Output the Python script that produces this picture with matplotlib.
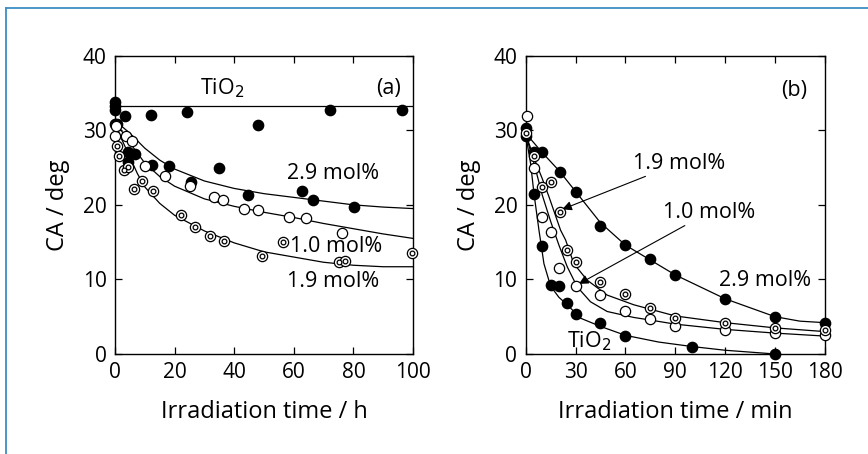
import matplotlib
matplotlib.use("Agg")
import matplotlib.pyplot as plt
from matplotlib.lines import Line2D

plt.rcParams['font.family'] = ['Open Sans', 'DejaVu Sans']

# ---- panel (a): irradiation time in hours ----
a_tio2_x = [0, 0, 0, 0, 3.4, 12.1, 24.1, 48, 72, 96.3]
a_tio2_y = [33.75, 33.2, 32.7, 30.9, 31.9, 32.0, 32.4, 30.7, 32.7, 32.7]
a_tio2_line_x = [0, 100]
a_tio2_line_y = [33.2, 33.2]

a_29_x = [0.8, 4.5, 6.7, 4.2, 12.3, 18.1, 25.4, 34.9, 44.5, 62.9, 66.5, 80.3]
a_29_y = [30.9, 27.1, 26.8, 25.7, 25.4, 25.2, 23.1, 25.0, 21.3, 21.9, 20.7, 19.7]
a_29_cx = [0, 5, 10, 15, 20, 30, 40, 50, 60, 70, 80, 90, 100]
a_29_cy = [31.3, 29.6, 27.6, 26.0, 24.8, 23.2, 22.2, 21.5, 21.0, 20.5, 20.0, 19.7, 19.5]

a_10_x = [0, 0.3, 3.7, 5.6, 10, 16.8, 25.1, 33.1, 36.2, 43.4, 48, 58.3, 64, 76.1]
a_10_y = [29.2, 30.6, 29.2, 28.6, 25.2, 23.9, 22.5, 21.0, 20.6, 19.5, 19.3, 18.4, 18.3, 16.2]
a_10_cx = [0, 5, 10, 15, 20, 30, 40, 50, 60, 70, 80, 90, 100]
a_10_cy = [31.2, 28.3, 25.6, 23.8, 22.5, 20.8, 19.8, 19.0, 18.3, 17.5, 16.8, 16.1, 15.5]

a_19_x = [0.6, 1.3, 3, 4.5, 6.5, 8.9, 12.6, 22, 27, 32, 36.5, 49.2, 56.4, 75.1, 77.1, 99.7]
a_19_y = [27.9, 26.6, 24.7, 25.1, 22.1, 23.2, 21.8, 18.6, 17.0, 15.8, 15.2, 13.1, 15.0, 12.3, 12.5, 13.6]
a_19_cx = [0, 2, 5, 7.5, 10, 15, 20, 30, 40, 50, 60, 70, 80, 90, 100]
a_19_cy = [31.0, 29.0, 26.4, 24.2, 22.4, 20.2, 18.6, 16.5, 14.9, 13.7, 13.0, 12.3, 11.9, 11.7, 11.7]

# ---- panel (b): irradiation time in minutes ----
b_tio2_x = [0, 0, 5, 10, 15, 20, 25, 30, 45, 60, 100, 150]
b_tio2_y = [30.3, 29.2, 21.4, 14.5, 9.2, 9.1, 6.8, 5.3, 4.2, 2.4, 0.9, 0.0]
b_tio2_cx = [0, 3, 5, 8, 11, 15, 20, 25, 33, 45, 60, 80, 100, 120, 150]
b_tio2_cy = [29.5, 25.5, 21.5, 16.6, 12.1, 9.1, 7.6, 6.6, 4.8, 3.7, 2.5, 1.6, 1.0, 0.5, 0.0]

b_29_x = [5, 10, 20.6, 30, 45, 60, 75, 90, 120, 150, 180]
b_29_y = [27.1, 27.1, 24.4, 21.7, 17.2, 14.6, 12.8, 10.6, 7.4, 4.9, 4.2]
b_29_cx = [0, 10, 20, 30, 45, 60, 75, 90, 120, 150, 165, 180]
b_29_cy = [29.6, 27.0, 24.6, 21.8, 17.6, 14.6, 12.6, 10.6, 7.4, 5.0, 4.4, 4.2]

b_10_x = [0.6, 5, 10, 15, 20, 30, 45, 60, 75, 90, 120, 150, 180]
b_10_y = [31.9, 24.9, 18.4, 16.3, 11.5, 9.1, 7.9, 5.8, 4.7, 3.8, 3.2, 2.8, 2.5]
b_10_cx = [0, 5, 10, 15, 20, 25, 31, 39, 49, 65, 75, 90, 120, 150, 180]
b_10_cy = [29.5, 25.6, 21.3, 17.8, 14.6, 11.7, 9.0, 7.0, 5.7, 4.9, 4.55, 4.0, 3.3, 2.8, 2.4]

b_19_x = [0, 5, 10, 15, 20.6, 25, 30, 45, 60, 75, 90, 120, 150, 180]
b_19_y = [29.6, 26.6, 22.4, 23.0, 19.1, 13.9, 12.4, 9.6, 8.0, 6.1, 4.8, 4.2, 3.5, 3.2]
b_19_cx = [0, 5, 10, 14, 21, 24, 29, 37, 49, 65, 75, 90, 120, 150, 180]
b_19_cy = [29.5, 26.3, 23.5, 21.1, 16.6, 15.3, 12.1, 9.9, 7.9, 6.6, 6.0, 5.1, 4.2, 3.5, 3.0]

fig = plt.figure(figsize=(8.68, 4.54), dpi=100)
ax1 = fig.add_axes([0.1325, 0.2203, 0.3433, 0.657])
ax2 = fig.add_axes([0.6056, 0.2203, 0.3448, 0.657])

# blue frame (top and left)
fig.add_artist(Line2D([6/868, 1], [1-8/454, 1-8/454], color='#3b8fc4', lw=1.3, transform=fig.transFigure))
fig.add_artist(Line2D([6/868, 6/868], [0, 1-8/454], color='#3b8fc4', lw=1.3, transform=fig.transFigure))

ms = 7.4
lw = 0.9
fs = 15.5


def filled(ax, x, y):
    ax.plot(x, y, 'o', color='k', ms=ms, zorder=4, clip_on=False)


def opened(ax, x, y):
    ax.plot(x, y, 'o', mfc='white', mec='k', mew=0.9, ms=ms, zorder=4, clip_on=False)


def double(ax, x, y):
    ax.plot(x, y, 'o', mfc='white', mec='k', mew=0.9, ms=ms, zorder=4, clip_on=False)
    ax.plot(x, y, 'o', mfc='white', mec='k', mew=0.9, ms=3.4, zorder=5, clip_on=False)


# panel a
ax1.plot(a_tio2_line_x, a_tio2_line_y, color='k', lw=lw)
ax1.plot(a_29_cx, a_29_cy, color='k', lw=lw)
ax1.plot(a_10_cx, a_10_cy, color='k', lw=lw)
ax1.plot(a_19_cx, a_19_cy, color='k', lw=lw)
filled(ax1, a_tio2_x, a_tio2_y)
filled(ax1, a_29_x, a_29_y)
opened(ax1, a_10_x, a_10_y)
double(ax1, a_19_x, a_19_y)

ax1.text(28.5, 35.6, 'TiO$_2$', fontsize=fs, va='center')
ax1.text(96, 35.6, '(a)', fontsize=fs, va='center', ha='right')
ax1.text(57.7, 24.2, '2.9 mol%', fontsize=fs, va='center')
ax1.text(58.7, 14.4, '1.0 mol%', fontsize=fs, va='center')
ax1.text(57.7, 9.7, '1.9 mol%', fontsize=fs, va='center')

ax1.set_xlim(0, 100)
ax1.set_ylim(0, 40)
ax1.set_xticks([0, 20, 40, 60, 80, 100])
ax1.set_yticks([0, 10, 20, 30, 40])
ax1.set_xlabel('Irradiation time / h', fontsize=17, labelpad=12)
ax1.set_ylabel('CA / deg', fontsize=17, labelpad=9)

# panel b
ax2.plot(b_tio2_cx, b_tio2_cy, color='k', lw=lw)
ax2.plot(b_29_cx, b_29_cy, color='k', lw=lw)
ax2.plot(b_10_cx, b_10_cy, color='k', lw=lw)
ax2.plot(b_19_cx, b_19_cy, color='k', lw=lw)
filled(ax2, b_tio2_x, b_tio2_y)
filled(ax2, b_29_x, b_29_y)
opened(ax2, b_10_x, b_10_y)
double(ax2, b_19_x, b_19_y)

arrow = dict(arrowstyle='-|>', color='k', lw=0.8, mutation_scale=14, shrinkA=0, shrinkB=0)
ax2.annotate('1.9 mol%', xy=(22, 19.4), xytext=(64.5, 25.6), fontsize=fs, va='center', ha='left',
             arrowprops=arrow)
ax2.annotate('1.0 mol%', xy=(32, 9.4), xytext=(82.5, 19.0), fontsize=fs, va='center', ha='left',
             arrowprops=arrow)
ax2.text(116, 9.8, '2.9 mol%', fontsize=fs, va='center')
ax2.text(25, 1.7, 'TiO$_2$', fontsize=fs, va='center')
ax2.text(169, 35.3, '(b)', fontsize=fs, va='center', ha='right')

ax2.set_xlim(0, 180)
ax2.set_ylim(0, 40)
ax2.set_xticks([0, 30, 60, 90, 120, 150, 180])
ax2.set_yticks([0, 10, 20, 30, 40])
ax2.set_xlabel('Irradiation time / min', fontsize=17, labelpad=12)
ax2.set_ylabel('CA / deg', fontsize=17, labelpad=9)

for ax in (ax1, ax2):
    ax.tick_params(direction='in', top=True, right=True, length=5, width=0.9,
                   labelsize=15, pad=6)
    for s in ax.spines.values():
        s.set_linewidth(1.0)

fig.savefig('out.png', dpi=100)
